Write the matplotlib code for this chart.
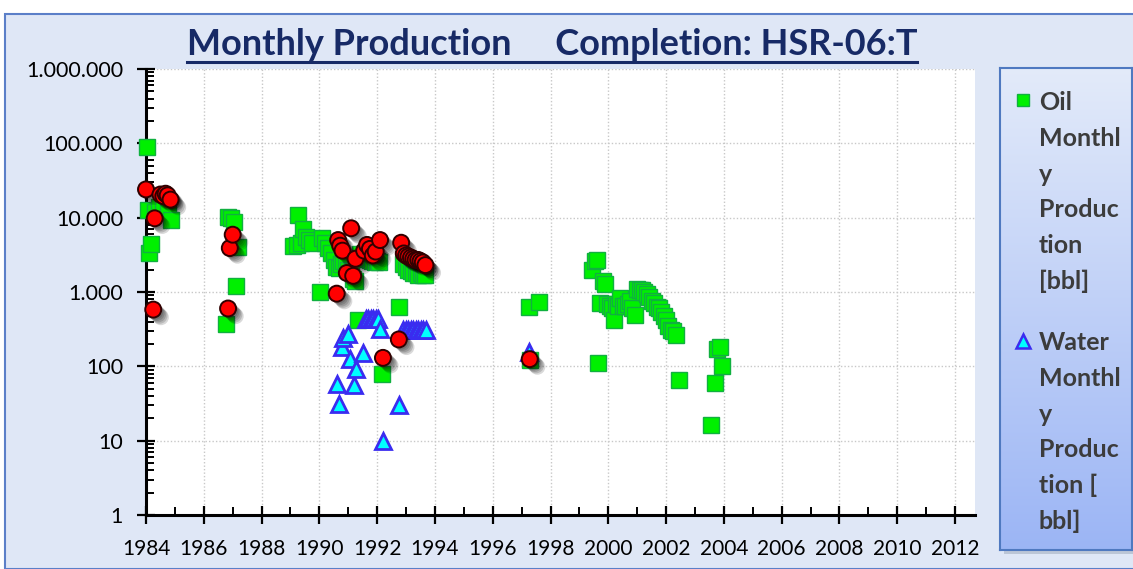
import numpy as np
import matplotlib
matplotlib.use("Agg")
import matplotlib.pyplot as plt
import matplotlib.patheffects as pe
from matplotlib.patches import Rectangle
from matplotlib.lines import Line2D
from matplotlib.ticker import FixedLocator, LogLocator, FuncFormatter, NullFormatter

plt.rcParams['font.family'] = ['Lato', 'DejaVu Sans']

# Oil monthly production [bbl]
oil_year = [1984.03, 1984.10, 1984.17, 1984.08, 1984.30, 1984.45, 1984.60, 1984.75, 1984.85,
            1986.77, 1986.84, 1986.95, 1987.05, 1987.13, 1987.17,
            1989.10, 1989.22, 1989.26, 1989.35, 1989.45, 1989.55, 1989.65, 1989.75,
            1990.03, 1990.10, 1990.20, 1990.30, 1990.40, 1990.50, 1990.58, 1990.67,
            1990.75, 1990.83, 1990.92, 1991.00, 1991.08, 1991.17, 1991.25, 1991.33,
            1991.42, 1991.50, 1991.58, 1991.67, 1991.75, 1991.83, 1991.92, 1992.00,
            1992.08, 1992.17, 1992.75, 1992.90, 1993.00, 1993.08, 1993.17, 1993.25,
            1993.33, 1993.42, 1993.50, 1993.58, 1993.67,
            1997.25, 1997.60, 1997.28,
            1999.43, 1999.55, 1999.62, 1999.64, 1999.71, 1999.80, 1999.88, 1999.96,
            2000.05, 2000.13, 2000.18, 2000.25, 2000.33, 2000.42, 2000.50, 2000.58,
            2000.67, 2000.75, 2000.83, 2000.92, 2001.00, 2001.08, 2001.17, 2001.25,
            2001.33, 2001.42, 2001.50, 2001.58, 2001.67, 2001.75, 2001.83, 2001.92,
            2002.00, 2002.08, 2002.17, 2002.25, 2002.33, 2002.44,
            2003.55, 2003.68, 2003.76, 2003.86, 2003.93]
oil_bbl = [88000, 3300, 4400, 12500, 12000, 14000, 13500, 12500, 9300,
           370, 10200, 9800, 8800, 1200, 4000,
           4200, 4300, 11000, 4600, 7000, 5500, 5000, 4500,
           1000, 5400, 4600, 3900, 3300, 2700, 2200, 2100,
           2400, 2600, 2300, 2000, 1900, 1500, 1400, 420,
           3200, 3000, 2800, 3000, 2700, 2600, 2500, 2600,
           2500, 78, 620, 2400, 2200, 2000, 1900, 1800,
           1800, 1700, 1800, 1700, 1700,
           620, 740, 120,
           1950, 2600, 2700, 110, 720, 1400, 1300, 700,
           640, 600, 420, 700, 650, 820, 640, 650,
           700, 760, 600, 490, 1100, 1050, 1050, 1000,
           950, 860, 760, 720, 620, 600, 530, 470,
           420, 350, 310, 300, 265, 65,
           16, 60, 170, 180, 100]

# Water monthly production [bbl]
water_year = [1990.60, 1990.68, 1990.78, 1990.82, 1990.99, 1991.06, 1991.20, 1991.27, 1991.50,
              1991.60, 1991.68, 1991.77, 1991.86, 1991.95, 1992.03, 1992.10, 1992.20, 1992.75,
              1992.90, 1993.00, 1993.08, 1993.17, 1993.25, 1993.33, 1993.42, 1993.50,
              1993.58, 1993.70, 1997.25]
water_bbl = [58, 31, 180, 240, 275, 125, 56, 92, 150,
             430, 430, 430, 430, 430, 430, 320, 10, 30,
             310, 310, 310, 310, 310, 310, 310, 310,
             310, 310, 155]

# third series (red circles)
gas_year = [1984.00, 1984.25, 1984.30, 1984.50, 1984.60, 1984.68, 1984.75, 1984.85,
            1986.84, 1986.90, 1987.00,
            1990.60, 1990.65, 1990.72, 1990.80, 1990.95, 1991.10, 1991.17, 1991.25,
            1991.55, 1991.65, 1991.75, 1991.85, 1991.95, 1992.10, 1992.20, 1992.75,
            1992.83, 1992.92, 1993.00, 1993.08, 1993.17, 1993.25, 1993.33, 1993.42,
            1993.50, 1993.58, 1993.67, 1997.28]
gas_val = [24000, 580, 9800, 20500, 19500, 21000, 20000, 17500,
           600, 3900, 5900,
           950, 5000, 4200, 3600, 1800, 7200, 1650, 2800,
           3600, 4300, 3800, 3100, 3500, 5000, 130, 230,
           4600, 3300, 3100, 3000, 2900, 2800, 2700, 2700,
           2600, 2500, 2300, 125]

year_ticks = list(range(1984, 2013, 2))
legend_oil = ["Oil", "Monthl", "y", "Produc", "tion", "[bbl]"]
legend_water = ["Water", "Monthl", "y", "Produc", "tion [", "bbl]"]

W, H = 1133, 569
fig = plt.figure(figsize=(W / 100, H / 100), dpi=100, facecolor='white')

# chart frame
fig.patches.append(Rectangle((5 / W, 0), 1.0, 1 - 14 / H, transform=fig.transFigure,
                             facecolor='#dfe7f6', edgecolor='#5b7fc8', linewidth=1.5, zorder=-2))

ax = fig.add_axes([146 / W, 1 - 515 / H, (975 - 146) / W, (515 - 69) / H])
ax.set_zorder(2)
ax.set_facecolor('white')
ax.set_yscale('log')
ax.set_ylim(1, 1e6)
ax.set_xlim(1984, 2012.69)

for s in ['top', 'right']:
    ax.spines[s].set_visible(False)
for s in ['left', 'bottom']:
    ax.spines[s].set_linewidth(2.2)
    ax.spines[s].set_color('black')

ax.xaxis.set_major_locator(FixedLocator(year_ticks))
ax.xaxis.set_minor_locator(FixedLocator(range(1985, 2012, 2)))
ax.xaxis.set_minor_formatter(NullFormatter())
ax.yaxis.set_major_locator(LogLocator(base=10, numticks=10))
ax.yaxis.set_minor_locator(LogLocator(base=10, subs=np.arange(2, 10), numticks=10))
ax.yaxis.set_minor_formatter(NullFormatter())
ax.yaxis.set_major_formatter(FuncFormatter(lambda v, p: f"{int(round(v)):,}".replace(',', '.')))
ax.xaxis.set_major_formatter(FuncFormatter(lambda v, p: f"{int(v)}"))

ax.tick_params(which='major', direction='inout', length=13, width=1.6, labelsize=15.5,
               colors='black')
ax.tick_params(which='minor', direction='in', length=6, width=1.4)
ax.tick_params(axis='x', which='major', pad=11, labelsize=15)
ax.tick_params(axis='y', which='major', pad=10)

ax.grid(True, which='major', linestyle=(0, (1, 1.5)), color='#c8c8c8', linewidth=1)
ax.set_axisbelow(True)

ax.plot(oil_year, oil_bbl, linestyle='none', marker='s', markersize=12,
        markerfacecolor='#00f000', markeredgecolor='#10b040', markeredgewidth=1.0,
        clip_on=False, zorder=3)
ax.plot(water_year, water_bbl, linestyle='none', marker='^', markersize=12,
        markerfacecolor='#00ffff', markeredgecolor='#3a2cf0', markeredgewidth=2.0,
        clip_on=False, zorder=4)

shadow = [pe.SimplePatchShadow(offset=(o, -o), shadow_rgbFace='black', alpha=0.15)
          for o in (1.5, 2.5, 3.5, 4.5, 5.5)]
ax.plot(gas_year, gas_val, linestyle='none', marker='o', markersize=11.5,
        markerfacecolor='#ff0000', markeredgecolor='#300000', markeredgewidth=1.4,
        clip_on=False, zorder=5, path_effects=shadow + [pe.Normal()])

# title with underline
title = fig.text(552 / W, 1 - 55 / H, "Monthly Production     Completion: HSR-06:T",
                 ha='center', va='baseline', fontsize=26, fontweight='bold', color='#172a66')
fig.canvas.draw()
bb = title.get_window_extent()
fig.add_artist(Line2D([bb.x0 / W, bb.x1 / W], [1 - 62 / H, 1 - 62 / H],
                      transform=fig.transFigure, color='#172a66', linewidth=2.2))

# legend panel
lx0, ly0, lx1, ly1 = 1000, 68, 1132, 550
fig.patches.append(Rectangle(((lx0 + 4) / W, 1 - (ly1 + 4) / H), (lx1 - lx0) / W,
                             (ly1 - ly0) / H, transform=fig.transFigure,
                             facecolor='#9aa6b8', edgecolor='none', alpha=0.5, zorder=-1))
lax = fig.add_axes([lx0 / W, 1 - ly1 / H, (lx1 - lx0) / W, (ly1 - ly0) / H])
lax.set_zorder(3)
grad = np.linspace(0, 1, 256).reshape(-1, 1)
top_c = np.array([0.89, 0.92, 0.98])
bot_c = np.array([0.61, 0.71, 0.96])
img = top_c[None, None, :] * (1 - grad[:, :, None]) + bot_c[None, None, :] * grad[:, :, None]
lax.imshow(img, aspect='auto', extent=[0, 1, 0, 1], origin='upper')
lax.set_xlim(0, 1)
lax.set_ylim(0, 1)
lax.set_xticks([])
lax.set_yticks([])
for s in lax.spines.values():
    s.set_color('#4f79c0')
    s.set_linewidth(1.5)

def ly(py):
    return 1 - (py - ly0) / (ly1 - ly0)

def lxx(px):
    return (px - lx0) / (lx1 - lx0)

lax.plot([lxx(1023)], [ly(100)], marker='s', markersize=9, linestyle='none',
         markerfacecolor='#00f000', markeredgecolor='#10b040')
lax.plot([lxx(1023)], [ly(341)], marker='^', markersize=10, linestyle='none',
         markerfacecolor='#00ffff', markeredgecolor='#3a2cf0', markeredgewidth=1.8)
for i, t in enumerate(legend_oil):
    lax.text(lxx(1039), ly(110 + 35.8 * i), t, fontsize=18, fontweight='bold',
             color='#3c3c3c', va='baseline', ha='left')
for i, t in enumerate(legend_water):
    lax.text(lxx(1039), ly(350 + 35.8 * i), t, fontsize=18, fontweight='bold',
             color='#3c3c3c', va='baseline', ha='left')

fig.savefig('out.png', dpi=100)
